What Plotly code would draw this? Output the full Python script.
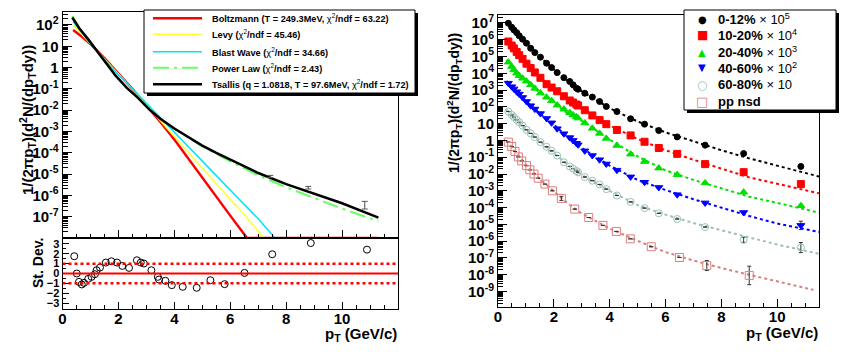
import numpy as np
import plotly.graph_objects as go

W, H = 858, 352
OFF = 8                      # the page body has an 8px margin, the figure starts there
WF, HF = W - OFF, H - OFF

# ---------------- left panel: fits to the 0-12% spectrum (log10 of yield) ----------------
pt_tsallis = [0.35, 0.6, 0.9, 1.2, 1.5, 1.9, 2.3, 2.7, 3.1, 3.5, 4.0, 4.5, 5.0, 5.5, 6.0, 7.0, 8.0, 9.0, 10.0, 11.3]
lg_tsallis = [2.35, 1.85, 1.36, 0.85, 0.30, -0.38, -0.95, -1.42, -1.96, -2.40, -2.86, -3.28, -3.66, -4.00, -4.32,
              -4.95, -5.47, -5.93, -6.37, -7.04]
lg_powerlaw = [2.42, 1.87, 1.36, 0.85, 0.30, -0.38, -0.95, -1.42, -1.96, -2.40, -2.87, -3.30, -3.70, -4.05, -4.40,
               -5.06, -5.62, -6.12, -6.62, -7.22]
pt_boltz = [0.38, 0.7, 1.0, 1.5, 2.0, 2.5, 3.0, 3.5, 4.0, 4.5, 5.0, 5.5, 6.0, 6.6, 11.3]
lg_boltz = [1.77, 1.45, 1.10, 0.45, -0.28, -1.00, -1.78, -2.55, -3.38, -4.28, -5.20, -6.05, -6.95, -8.0, -8.0]
pt_levy = [0.38, 0.7, 1.0, 1.5, 2.0, 2.5, 3.0, 3.5, 4.0, 4.5, 5.0, 5.5, 6.0, 6.5, 7.2, 11.3]
lg_levy = [2.00, 1.55, 1.12, 0.40, -0.32, -1.00, -1.72, -2.50, -3.25, -3.98, -4.72, -5.45, -6.18, -6.90, -8.0, -8.0]
pt_blast = [0.38, 0.7, 1.0, 1.5, 2.0, 2.5, 3.0, 3.5, 4.0, 4.5, 5.0, 5.5, 6.0, 6.5, 7.0, 7.6, 11.3]
lg_blast = [2.16, 1.62, 1.12, 0.38, -0.34, -1.00, -1.68, -2.36, -3.03, -3.70, -4.38, -5.07, -5.75, -6.43, -7.10,
            -8.0, -8.0]

# measured points visible above the curves at high pT (log10 value, log10 half error)
pt_meas = [7.43, 8.79, 10.81]
lg_meas = [-5.11, -5.64, -6.46]
lg_meas_err = [0.05, 0.06, 0.18]

# residuals (standard deviations)
pt_res = [0.42, 0.51, 0.59, 0.69, 0.77, 0.92, 1.04, 1.16, 1.22, 1.34, 1.55, 1.75, 1.95, 2.14, 2.38, 2.66, 2.80,
          2.91, 3.18, 3.41, 3.45, 3.68, 3.91, 4.30, 4.80, 5.29, 5.80, 6.51, 7.50, 8.88, 10.89]
res = [1.75, 0.0, -0.85, -1.11, -0.95, -0.54, -0.34, -0.07, 0.33, 0.60, 1.11, 1.24, 1.11, 0.77, 0.57, 1.34, 1.11,
       1.01, 0.33, -0.34, -0.61, -0.74, -1.18, -1.35, -1.45, -0.68, -1.08, 0.06, 1.95, 3.09, 2.42]
sigma_lines = [0, 1, -1]

fit_labels = [
    "<b>Boltzmann (T = 249.3MeV, </b>χ<sup>2</sup><b>/ndf = 63.22)</b>",
    "<b>Levy (</b>χ<sup>2</sup><b>/ndf = 45.46)</b>",
    "<b>Blast Wave (</b>χ<sup>2</sup><b>/ndf = 34.66)</b>",
    "<b>Power Law (</b>χ<sup>2</sup><b>/ndf = 2.43)</b>",
    "<b>Tsallis (q = 1.0818, T = 97.6MeV, </b>χ<sup>2</sup><b>/ndf = 1.72)</b>",
]

# ---------------- right panel: spectra by centrality (log10 of scaled yield) ----------------
pt_aa = [0.37, 0.49, 0.57, 0.67, 0.76, 0.88, 1.02, 1.17, 1.32, 1.52, 1.74, 1.92, 2.12, 2.36, 2.57, 2.69, 2.81, 2.87,
         3.11, 3.38, 3.64, 3.88, 4.26, 4.75, 5.25, 5.76, 6.42, 7.42, 8.80, 10.85]
lg_c0 = [6.98, 6.74, 6.58, 6.42, 6.23, 6.03, 5.79, 5.49, 5.23, 4.96, 4.60, 4.34, 4.04, 3.74, 3.51, 3.31, 3.11, 3.05,
         2.81, 2.58, 2.32, 2.02, 1.72, 1.29, 0.97, 0.59, 0.21, -0.28, -0.78, -1.55]
lg_c1 = [5.89, 5.65, 5.48, 5.27, 5.08, 4.86, 4.57, 4.31, 4.05, 3.73, 3.35, 3.15, 2.93, 2.63, 2.38, 2.26, 2.14, 2.08,
         1.80, 1.49, 1.21, 0.97, 0.62, 0.30, -0.08, -0.45, -0.80, -1.41, -1.89, -2.60]
lg_c2 = [4.66, 4.40, 4.20, 4.00, 3.85, 3.70, 3.53, 3.31, 3.10, 2.82, 2.57, 2.36, 2.10, 1.86, 1.65, 1.52, 1.40, 1.33,
         1.04, 0.72, 0.42, 0.12, -0.30, -0.82, -1.26, -1.65, -2.04, -2.53, -3.08, -3.89]
lg_c3 = [3.41, 3.20, 3.07, 2.90, 2.76, 2.56, 2.32, 2.07, 1.87, 1.60, 1.31, 1.05, 0.70, 0.40, 0.17, 0.00, -0.17, -0.26,
         -0.62, -0.90, -1.15, -1.40, -1.77, -2.17, -2.49, -2.80, -3.23, -3.72, -4.29, -5.06]
lg_c4 = [1.72, 1.52, 1.39, 1.23, 1.08, 0.88, 0.63, 0.42, 0.20, -0.10, -0.38, -0.62, -0.90, -1.30, -1.55, -1.68, -1.82,
         -1.90, -2.18, -2.40, -2.62, -2.90, -3.28, -3.66, -4.03, -4.34, -4.68, -5.16, -5.92, -6.38]
pt_pp = [0.37, 0.49, 0.61, 0.73, 0.85, 1.02, 1.14, 1.29, 1.44, 1.68, 1.95, 2.27, 2.75, 3.25, 3.76, 4.24, 4.74, 5.49,
         6.5, 7.48, 9.0]
lg_pp = [-0.10, -0.36, -0.66, -0.98, -1.22, -1.50, -1.75, -2.00, -2.25, -2.60, -3.00, -3.45, -4.09, -4.59, -5.06,
         -5.42, -5.86, -6.33, -6.97, -7.45, -8.04]

# error bars (log10 half width), only the visible ones are non zero
err_c0 = [0] * 29 + [0.05]
err_c1 = [0] * 29 + [0.10]
err_c2 = [0] * 29 + [0.06]
err_c3 = [0] * 29 + [0.25]
err_c4 = [0] * 28 + [0.15, 0.30]
err_pp = [0] * 11 + [0.12] + [0] * 7 + [0.30, 0.55]

# fitted curves drawn through the spectra
pt_fit = [0.3, 0.6, 1, 1.5, 2, 2.5, 3, 4, 5, 6, 7, 8, 9, 10, 11.5]
fit_c0 = [7.10, 6.55, 5.82, 4.98, 4.22, 3.55, 2.93, 1.92, 1.13, 0.48, -0.07, -0.58, -1.07, -1.50, -2.15]
fit_c1 = [6.00, 5.40, 4.60, 3.78, 3.05, 2.45, 1.92, 0.90, 0.08, -0.58, -1.15, -1.68, -2.20, -2.58, -3.15]
fit_c2 = [4.80, 4.20, 3.55, 2.85, 2.22, 1.62, 1.17, 0.05, -0.95, -1.78, -2.35, -2.85, -3.35, -3.72, -4.30]
fit_c3 = [3.55, 2.95, 2.35, 1.60, 0.95, 0.20, -0.45, -1.50, -2.35, -2.95, -3.50, -4.00, -4.50, -4.95, -5.45]
fit_c4 = [1.85, 1.30, 0.65, -0.05, -0.72, -1.45, -2.05, -3.00, -3.85, -4.42, -4.92, -5.35, -5.78, -6.20, -6.75]
pt_fit_pp = [0.3, 0.6, 1, 1.5, 2, 2.5, 3, 4, 5, 6, 7, 8, 9, 10, 11.3]
fit_pp = [0.0, -0.60, -1.45, -2.30, -3.05, -3.75, -4.35, -5.25, -5.98, -6.65, -7.15, -7.60, -8.00, -8.40, -8.90]

cent_labels = ["0-12%", "10-20%", "20-40%", "40-60%", "60-80%", "pp nsd"]
cent_scales = ["10<sup>5</sup>", "10<sup>4</sup>", "10<sup>3</sup>", "10<sup>2</sup>", "10", ""]

FONT = "Liberation Sans"


def v(a):
    return 10 ** np.asarray(a, dtype=float)


def px(x):
    return (x - OFF) / WF


def py(y):
    return 1 - (y - OFF) / HF


def log_errs(lg, err):
    lg = np.asarray(lg, dtype=float)
    err = np.asarray(err, dtype=float)
    return v(lg + err) - v(lg), v(lg) - v(lg - err)


def log_ticks(lo, hi):
    vals = [10.0 ** d for d in range(lo, hi + 1)]
    txt = []
    for d in range(lo, hi + 1):
        if d == 0:
            txt.append("1")
        elif d == 1:
            txt.append("10")
        else:
            txt.append("10<sup>%d</sup>" % d)
    minor = [m * 10.0 ** d for d in range(lo - 2, hi + 2) for m in range(2, 10)]
    return vals, txt, minor


def note(x, y, text, size, xanchor="center", angle=0, family=FONT, color="black"):
    return dict(x=px(x), y=py(y), xref="paper", yref="paper", text=text, showarrow=False, textangle=angle,
                xanchor=xanchor, yanchor="middle", font=dict(family=family, size=size, color=color))


fig = go.Figure()

# ---- left top: fit curves
curves = [
    (pt_boltz, lg_boltz, "#ff0000", 2.5, "solid"),
    (pt_levy, lg_levy, "#ffff33", 1.5, "solid"),
    (pt_blast, lg_blast, "#00e5ff", 1.5, "solid"),
    (pt_tsallis, lg_powerlaw, "#66ff66", 2.0, "16px,5px,3px,5px"),
    (pt_tsallis, lg_tsallis, "#000000", 2.5, "solid"),
]
for xs, ys, col, lw, dash in curves:
    fig.add_trace(go.Scatter(x=xs, y=v(ys), mode="lines", line=dict(color=col, width=lw, dash=dash),
                             xaxis="x", yaxis="y", showlegend=False))
up, dn = log_errs(lg_meas, lg_meas_err)
fig.add_trace(go.Scatter(x=pt_meas, y=v(lg_meas), mode="markers", marker=dict(size=1, color="#555"),
                         error_y=dict(type="data", symmetric=False, array=up, arrayminus=dn, color="#555",
                                      thickness=1, width=3),
                         xaxis="x", yaxis="y", showlegend=False))

# ---- left bottom: residuals
fig.add_trace(go.Scatter(x=pt_res, y=res, mode="markers",
                         marker=dict(symbol="circle-open", size=7, color="black", line=dict(width=1)),
                         xaxis="x2", yaxis="y2", showlegend=False))

# ---- right: spectra
series = [
    (pt_aa, lg_c0, err_c0, pt_fit, fit_c0, "#000000", "circle", 6),
    (pt_aa, lg_c1, err_c1, pt_fit, fit_c1, "#ff0000", "square", 7),
    (pt_aa, lg_c2, err_c2, pt_fit, fit_c2, "#00e000", "triangle-up", 7),
    (pt_aa, lg_c3, err_c3, pt_fit, fit_c3, "#0000ff", "triangle-down", 7),
    (pt_aa, lg_c4, err_c4, pt_fit, fit_c4, "#9cc2b3", "circle-open", 7),
    (pt_pp, lg_pp, err_pp, pt_fit_pp, fit_pp, "#dc7e7e", "square-open", 8),
]
for xs, ys, es, fx, fy, col, sym, sz in series:
    fig.add_trace(go.Scatter(x=fx, y=v(fy), mode="lines", line=dict(color=col, width=2, dash="dot"),
                             xaxis="x3", yaxis="y3", showlegend=False))
for xs, ys, es, fx, fy, col, sym, sz in series:
    up, dn = log_errs(ys, es)
    fig.add_trace(go.Scatter(x=xs, y=v(ys), mode="markers",
                             marker=dict(symbol=sym, size=sz, color=col, line=dict(width=1, color=col)),
                             error_y=dict(type="data", symmetric=False, array=up, arrayminus=dn, color="#333",
                                          thickness=1, width=2),
                             xaxis="x3", yaxis="y3", showlegend=False))

# ---- axes
tick_font = dict(family=FONT, size=15, color="black", weight="bold")
common = dict(showline=True, linecolor="black", linewidth=1, mirror=True, showgrid=False, zeroline=False,
              ticks="inside", tickcolor="black", tickfont=tick_font)

yv, yt, ym = log_ticks(-7, 2)
yv3, yt3, ym3 = log_ticks(-9, 7)

fig.update_layout(
    xaxis=dict(common, domain=[px(62.5), px(398)], anchor="y", range=[0, 12], showticklabels=False,
               tickvals=[0, 2, 4, 6, 8, 10], ticklen=8, minor=dict(ticks="inside", dtick=0.5, ticklen=4)),
    yaxis=dict(common, domain=[py(238), py(12)], anchor="x", type="log", range=[-8, 2.61],
               tickmode="array", tickvals=yv, ticktext=yt, ticklen=9,
               minor=dict(ticks="inside", tickmode="array", tickvals=ym, ticklen=5)),
    xaxis2=dict(common, domain=[px(62.5), px(398)], anchor="y2", range=[0, 12], ticklabelstandoff=-4,
                tickvals=[0, 2, 4, 6, 8, 10], ticklen=7, minor=dict(ticks="inside", dtick=0.5, ticklen=4)),
    yaxis2=dict(common, domain=[py(309), py(238)], anchor="x2", range=[-3.6, 3.6],
                tickvals=[-3, -2, -1, 0, 1, 2, 3], ticklen=6, tickfont=dict(tick_font, size=11),
                minor=dict(ticks="inside", dtick=0.5, ticklen=3)),
    xaxis3=dict(common, domain=[px(498), px(819)], anchor="y3", range=[0, 11.5], ticklabelstandoff=-4,
                tickvals=[0, 2, 4, 6, 8, 10], ticklen=8, minor=dict(ticks="inside", dtick=0.5, ticklen=4)),
    yaxis3=dict(common, domain=[py(307), py(14.5)], anchor="x3", type="log", range=[-9.92, 7.5],
                tickmode="array", tickvals=yv3, ticktext=yt3, ticklen=9,
                minor=dict(ticks="inside", tickmode="array", tickvals=ym3, ticklen=5)),
)

# residual reference lines
for s in sigma_lines:
    fig.add_shape(type="line", xref="x2", yref="y2", x0=0, x1=12, y0=s, y1=s,
                  line=dict(color="#ff0000", width=2 if s == 0 else 2.5, dash="solid" if s == 0 else "dot"))

ann = []


def legend_box(x0, x1, y0, y1):
    fig.add_shape(type="rect", xref="paper", yref="paper", x0=px(x0 + 3), x1=px(x1 + 3), y0=py(y1 + 3),
                  y1=py(y0 + 3), fillcolor="black", line=dict(width=0), layer="above")
    fig.add_shape(type="rect", xref="paper", yref="paper", x0=px(x0), x1=px(x1), y0=py(y1), y1=py(y0),
                  fillcolor="white", line=dict(color="black", width=1), layer="above")


# left legend
legend_box(144, 415, 10, 93)
rows_l = [18.3, 34.3, 51.7, 67.7, 84.3]
for (xs, ys, col, lw, dash), lab, ry in zip(curves, fit_labels, rows_l):
    fig.add_shape(type="line", xref="paper", yref="paper", x0=px(153), x1=px(202), y0=py(ry), y1=py(ry),
                  line=dict(color=col, width=lw, dash=dash), layer="above")
    ann.append(note(210, ry, lab, 9.2, xanchor="left"))

# right legend
legend_box(684, 836, 10, 110)
rows_r = [19, 35, 52, 68, 85, 101]
glyphs = ["●", "■", "▲", "▼", "○", "□"]
glyph_sz = [10, 12, 10, 10, 12, 13]
for (xs, ys, es, fx, fy, col, sym, sz), lab, sc, g, gs, ry in zip(series, cent_labels, cent_scales, glyphs,
                                                                  glyph_sz, rows_r):
    ann.append(note(702, ry, g, gs, family="DejaVu Sans", color=col))
    txt = "<b>%s</b>" % lab + (" × %s" % sc if sc else "")
    ann.append(note(716, ry, txt, 13, xanchor="left"))

# axis titles
ytitle = "<b>1/(2πp<sub>T</sub>)(d<sup>2</sup>N/(dp<sub>T</sub>dy))</b>"
ann.append(note(27, 120, ytitle, 15, angle=-90))
ann.append(note(454, 103, ytitle, 14, angle=-90))
ann.append(note(38, 263, "<b>St. Dev.</b>", 14, angle=-90))
xtitle = "<b>p<sub>T</sub> (GeV/c)</b>"
ann.append(note(399, 334, xtitle, 15, xanchor="right"))
ann.append(note(820, 333, xtitle, 15, xanchor="right"))

fig.update_layout(width=WF, height=HF, margin=dict(l=0, r=0, t=0, b=0, autoexpand=False),
                  paper_bgcolor="white", plot_bgcolor="rgba(0,0,0,0)", annotations=ann,
                  font=dict(family=FONT, color="black"))

fig.write_html("out.html")
